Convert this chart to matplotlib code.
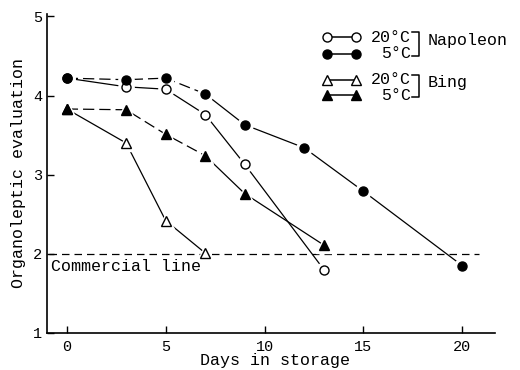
import matplotlib.pyplot as plt
from matplotlib.lines import Line2D

plt.rcParams['font.family'] = ['Liberation Mono', 'DejaVu Sans Mono']

# Napoleon cherries
nap20_days = [0, 3, 5, 7, 9, 13]
nap20_vals = [4.22, 4.11, 4.08, 3.76, 3.13, 1.80]
nap5_days = [0, 3, 5, 7, 9, 12, 15, 20]
nap5_vals = [4.22, 4.20, 4.22, 4.02, 3.63, 3.34, 2.79, 1.85]

# Bing cherries
bing20_days = [0, 3, 5, 7]
bing20_vals = [3.83, 3.40, 2.42, 2.01]
bing5_days = [0, 3, 5, 7, 9, 13]
bing5_vals = [3.83, 3.82, 3.51, 3.24, 2.76, 2.11]

commercial = 2.0
xticks = [0, 5, 10, 15, 20]
yticks = [1, 2, 3, 4, 5]

W, H = 520, 370
fig = plt.figure(figsize=(W / 100, H / 100), dpi=100)
ax = fig.add_axes([47 / W, 1 - 333 / H, (495 - 47) / W, (333 - 14) / H])

dash = (0, (9, 4))
# (days, values, marker, face, index where dashed part ends)
series = [
    (nap20_days, nap20_vals, 'o', 'white', 0),
    (nap5_days, nap5_vals, 'o', 'black', 3),
    (bing20_days, bing20_vals, '^', 'white', 0),
    (bing5_days, bing5_vals, '^', 'black', 3),
]
for d, v, m, fc, k in series:
    if k:
        ax.plot(d[:k + 1], v[:k + 1], color='black', lw=0.9, ls=dash, zorder=2)
    ax.plot(d[k:], v[k:], color='black', lw=0.9, ls='-', zorder=2)
    # white halo so the lines stop short of the markers
    ax.plot(d, v, ls='none', marker=m, ms=11, mfc='white', mec='white', zorder=3)
    ax.plot(d, v, ls='none', marker=m, ms=6.5, mfc=fc, mec='black', mew=1.0, zorder=4)

ax.axhline(commercial, xmin=0.005, xmax=0.965, color='black', lw=0.9,
           ls=(0, (6, 4)), zorder=1)
ax.text(-0.8, commercial - 0.07, 'Commercial line', fontsize=12, va='top', ha='left')

ax.set_xlim(-1, 21.65)
ax.set_ylim(1, 5.03)
ax.set_xticks(xticks)
ax.set_yticks(yticks)
ax.tick_params(direction='in', length=5, width=1, labelsize=11)
ax.tick_params(axis='x', pad=5)
for s in ['top', 'right']:
    ax.spines[s].set_visible(False)
for s in ['left', 'bottom']:
    ax.spines[s].set_linewidth(1.2)
ax.set_ylabel('Organoleptic evaluation', fontsize=12, labelpad=5)
fig.text(275 / W, 1 - 361 / H, 'Days in storage', fontsize=12, ha='center', va='center')

# hand-made legend with brackets
def fx(px):
    return px / W

def fy(py):
    return 1 - py / H

rows = [(37, 'o', 'white', '20°C'), (54, 'o', 'black', '5°C'),
        (80, '^', 'white', '20°C'), (95, '^', 'black', '5°C')]
for py, m, fc, lab in rows:
    fig.add_artist(Line2D([fx(327), fx(356)], [fy(py), fy(py)], color='black', lw=1.1,
                          marker=m, ms=6.5, mfc=fc, mec='black', transform=fig.transFigure))
    fig.text(fx(411), fy(py), lab, fontsize=12, ha='right', va='center')

for ytop, ybot, name in [(37, 56, 'Napoleon'), (80, 97, 'Bing')]:
    fig.add_artist(Line2D([fx(412), fx(419), fx(419), fx(412)],
                          [fy(ytop - 5), fy(ytop - 5), fy(ybot), fy(ybot)],
                          color='black', lw=1.1, transform=fig.transFigure))
    fig.text(fx(428), fy(ytop + 3), name, fontsize=12, ha='left', va='center')

fig.savefig('out.png', dpi=100)
